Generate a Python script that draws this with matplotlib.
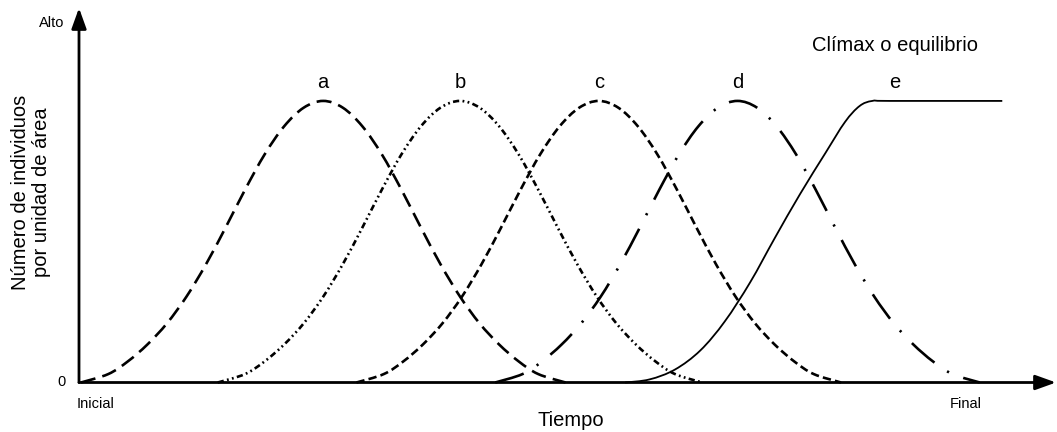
import matplotlib
matplotlib.use("Agg")
import matplotlib.pyplot as plt
from matplotlib.path import Path
from matplotlib.patches import PathPatch, FancyArrowPatch

plt.rcParams['font.family'] = ['Liberation Sans', 'DejaVu Sans']
plt.rcParams['lines.scale_dashes'] = False

# ---- data (time 0-100, individuals 0-100) ----
a_x = [0.2, 3, 5, 7, 9, 11, 13, 15, 17, 19, 21, 23, 25, 27, 29, 31, 33, 35, 37, 39, 41, 43, 45, 47, 49.8]
a_y = [0, 3, 7.5, 13.5, 21, 30.5, 42, 55, 68.5, 81, 91, 97.6, 100, 97.6, 91, 81, 68.5, 55, 42, 30.5, 21, 13.5, 7.5, 3, 0]

b_x = [14.2, 17, 19, 21, 23, 25, 27, 29, 31, 33, 35, 37, 39, 41, 43, 45, 47, 49, 51, 53, 55, 57, 59, 61, 63.8]
b_y = [0, 3, 7.5, 13.5, 21, 30.5, 42, 55, 68.5, 81, 91, 97.6, 100, 97.6, 91, 81, 68.5, 55, 42, 30.5, 21, 13.5, 7.5, 3, 0]

c_x = [28.4, 31.2, 33.2, 35.2, 37.2, 39.2, 41.2, 43.2, 45.2, 47.2, 49.2, 51.2, 53.2, 55.2, 57.2, 59.2, 61.2, 63.2, 65.2, 67.2, 69.2, 71.2, 73.2, 75.2, 78.0]
c_y = [0, 3, 7.5, 13.5, 21, 30.5, 42, 55, 68.5, 81, 91, 97.6, 100, 97.6, 91, 81, 68.5, 55, 42, 30.5, 21, 13.5, 7.5, 3, 0]

d_x = [42.6, 45.4, 47.4, 49.4, 51.4, 53.4, 55.4, 57.4, 59.4, 61.4, 63.4, 65.4, 67.4, 69.4, 71.4, 73.4, 75.4, 77.4, 79.4, 81.4, 83.4, 85.4, 87.4, 89.4, 92.2]
d_y = [0, 3, 7.5, 13.5, 21, 30.5, 42, 55, 68.5, 81, 91, 97.6, 100, 97.6, 91, 81, 68.5, 55, 42, 30.5, 21, 13.5, 7.5, 3, 0]

e_x = [55.9, 58.4, 61.0, 63.6, 66.1, 68.7, 71.2, 73.8, 76.4, 78.4, 79.9, 81.2, 83.0, 94.5]
e_y = [0, 1.1, 4.6, 11.4, 21.7, 35.6, 51.2, 66.9, 81.5, 92.5, 98.2, 100, 100, 100]

curve_labels = ['a', 'b', 'c', 'd', 'e']
label_x = [25, 39, 53.2, 67.4, 83.5]

x_label = 'Tiempo'
y_label = 'Número de individuos\npor unidad de área'
x_start, x_end = 'Inicial', 'Final'
y_low, y_high = '0', 'Alto'
note = 'Clímax o equilibrio'

W, H = 1057, 432
fig = plt.figure(figsize=(W / 100, H / 100), dpi=100)
ax = fig.add_axes([79 / W, (H - 382.5) / H, (1056 - 79) / W, (382.5 - 8) / H])
ax.set_xlim(0, 100)
ax.set_ylim(0, 133.0)
ax.axis('off')


def smooth_path(xs, ys):
    pts = list(zip(xs, ys))
    n = len(pts)
    verts = [pts[0]]
    codes = [Path.MOVETO]
    for i in range(n - 1):
        p0 = pts[i - 1] if i > 0 else pts[i]
        p1 = pts[i]
        p2 = pts[i + 1]
        p3 = pts[i + 2] if i + 2 < n else pts[i + 1]
        c1 = (p1[0] + (p2[0] - p0[0]) / 6, p1[1] + (p2[1] - p0[1]) / 6)
        c2 = (p2[0] - (p3[0] - p1[0]) / 6, p2[1] - (p3[1] - p1[1]) / 6)
        verts += [c1, c2, p2]
        codes += [Path.CURVE4] * 3
    return Path(verts, codes)


styles = [
    (a_x, a_y, (0, (10.8, 5.2)), 1.9),
    (b_x, b_y, (0, (4.5, 2.4, 1.3, 2.4, 1.3, 2.4)), 1.9),
    (c_x, c_y, (0, (6, 3)), 1.9),
    (d_x, d_y, (0, (21.5, 11, 1.6, 11)), 1.9),
    (e_x, e_y, '-', 1.3),
]
for xs, ys, ls, lw in styles:
    ax.add_patch(PathPatch(smooth_path(xs, ys), fill=False, edgecolor='black',
                           linestyle=ls, linewidth=lw, capstyle='butt', clip_on=False))

# axes with arrows
for tip in [(1, 0), (0, 1)]:
    arr = FancyArrowPatch((0, 0), tip, transform=ax.transAxes,
                          arrowstyle='-|>,head_length=12.5,head_width=4.5',
                          mutation_scale=1, shrinkA=0, shrinkB=0,
                          color='black', linewidth=2.0, clip_on=False)
    ax.add_patch(arr)

fs_small = 10.5
fs_big = 14.5
for lab, lx in zip(curve_labels, label_x):
    ax.text(lx, 104.6, lab, ha='center', va='baseline', fontsize=fs_big)

ax.text(83.5, 117.8, note, ha='center', va='baseline', fontsize=fs_big)
ax.text(-1.45, 127.8, y_high, ha='right', va='center', fontsize=fs_small, clip_on=False)
ax.text(-1.35, 0.3, y_low, ha='right', va='center', fontsize=fs_small, clip_on=False)
ax.text(-0.2, -8.9, x_start, ha='left', va='baseline', fontsize=fs_small, clip_on=False)
ax.text(90.8, -8.9, x_end, ha='center', va='baseline', fontsize=fs_small, clip_on=False)
ax.text(50.3, -15.3, x_label, ha='center', va='baseline', fontsize=fs_big, clip_on=False)
fig.text(31 / W, 1 - 192 / H, y_label, rotation=90, ha='center', va='center',
         fontsize=fs_big, linespacing=1.08, multialignment='center')

fig.savefig('out.png', dpi=100)
